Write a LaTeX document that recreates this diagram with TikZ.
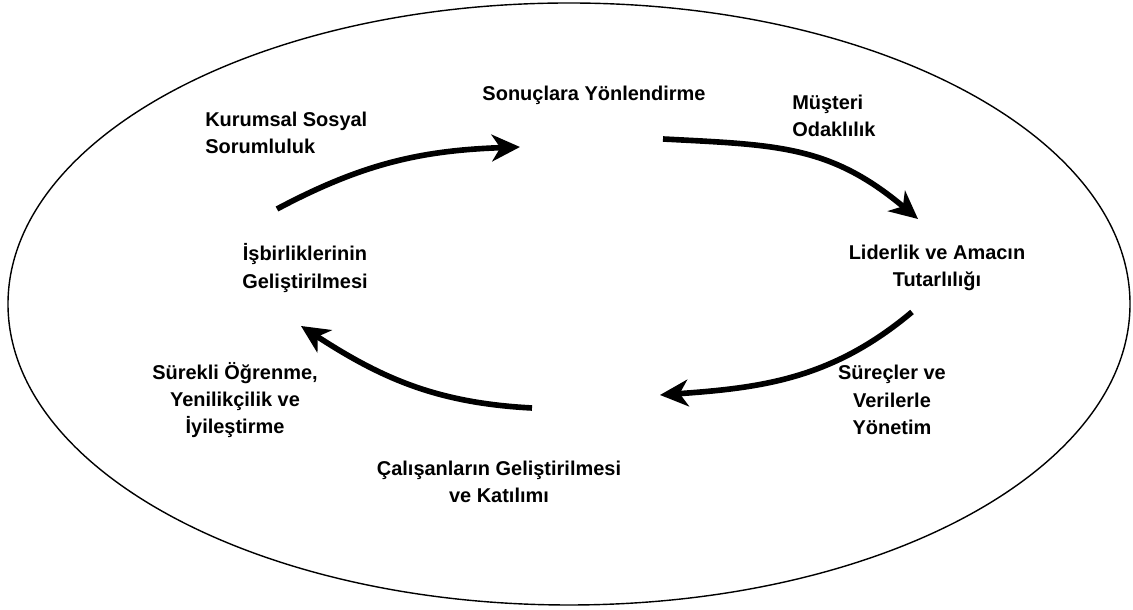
\documentclass[tikz,border=0pt]{standalone}
\usepackage{fontspec}
\setmainfont{Liberation Sans}[BoldFont={Liberation Sans Bold}]
\usetikzlibrary{arrows.meta}

\begin{document}
\begin{tikzpicture}[x=0.025cm, y=0.025cm,
    every node/.style={font=\bfseries\fontsize{14.2}{19.4}\selectfont, inner sep=0pt},
    lbl/.style={align=center},
    lblleft/.style={align=left, anchor=west},
    cyc/.style={line width=4pt, -{Stealth[length=20pt, width=19pt, inset=6pt]}}]
    \useasboundingbox (0,0) rectangle (1133,610);
    % outer ring
    \draw[line width=1pt] (569,306) ellipse [x radius=561, y radius=301];

    % labels
    \node[lbl] (son) at (594,515) {Sonuçlara Yönlendirme};
    \node[lblleft] (kss) at (205,477) {Kurumsal Sosyal\\Sorumluluk};
    \node[lblleft] (mus) at (792,494) {Müşteri\\Odaklılık};
    \node[lbl] (lid) at (937,342) {Liderlik ve Amacın\\Tutarlılığı};
    \node[lbl] (isb) at (305,342) {İşbirliklerinin\\Geliştirilmesi};
    \node[lbl] (sur) at (235,210) {Sürekli Öğrenme,\\Yenilikçilik ve\\İyileştirme};
    \node[lbl] (sve) at (892,210) {Süreçler ve\\Verilerle\\Yönetim};
    \node[lbl] (cal) at (499,128) {Çalışanların Geliştirilmesi\\ve Katılımı};

    % arrow ends
    \coordinate (a1s) at (277,401);
    \coordinate (a1e) at (520,463);
    \coordinate (a2s) at (663,471);
    \coordinate (a2e) at (918,391);
    \coordinate (a3s) at (912,298);
    \coordinate (a3e) at (660,215);
    \coordinate (a4s) at (532,202);
    \coordinate (a4e) at (301,284);

    % cycle
    \draw[cyc] (a1s) to[out=28, in=182] (a1e);
    \draw[cyc] (a2s) to[out=-3, in=140, looseness=1.1] (a2e);
    \draw[cyc] (a3s) to[out=220, in=4] (a3e);
    \draw[cyc] (a4s) to[out=177, in=-33] (a4e);
\end{tikzpicture}
\end{document}
